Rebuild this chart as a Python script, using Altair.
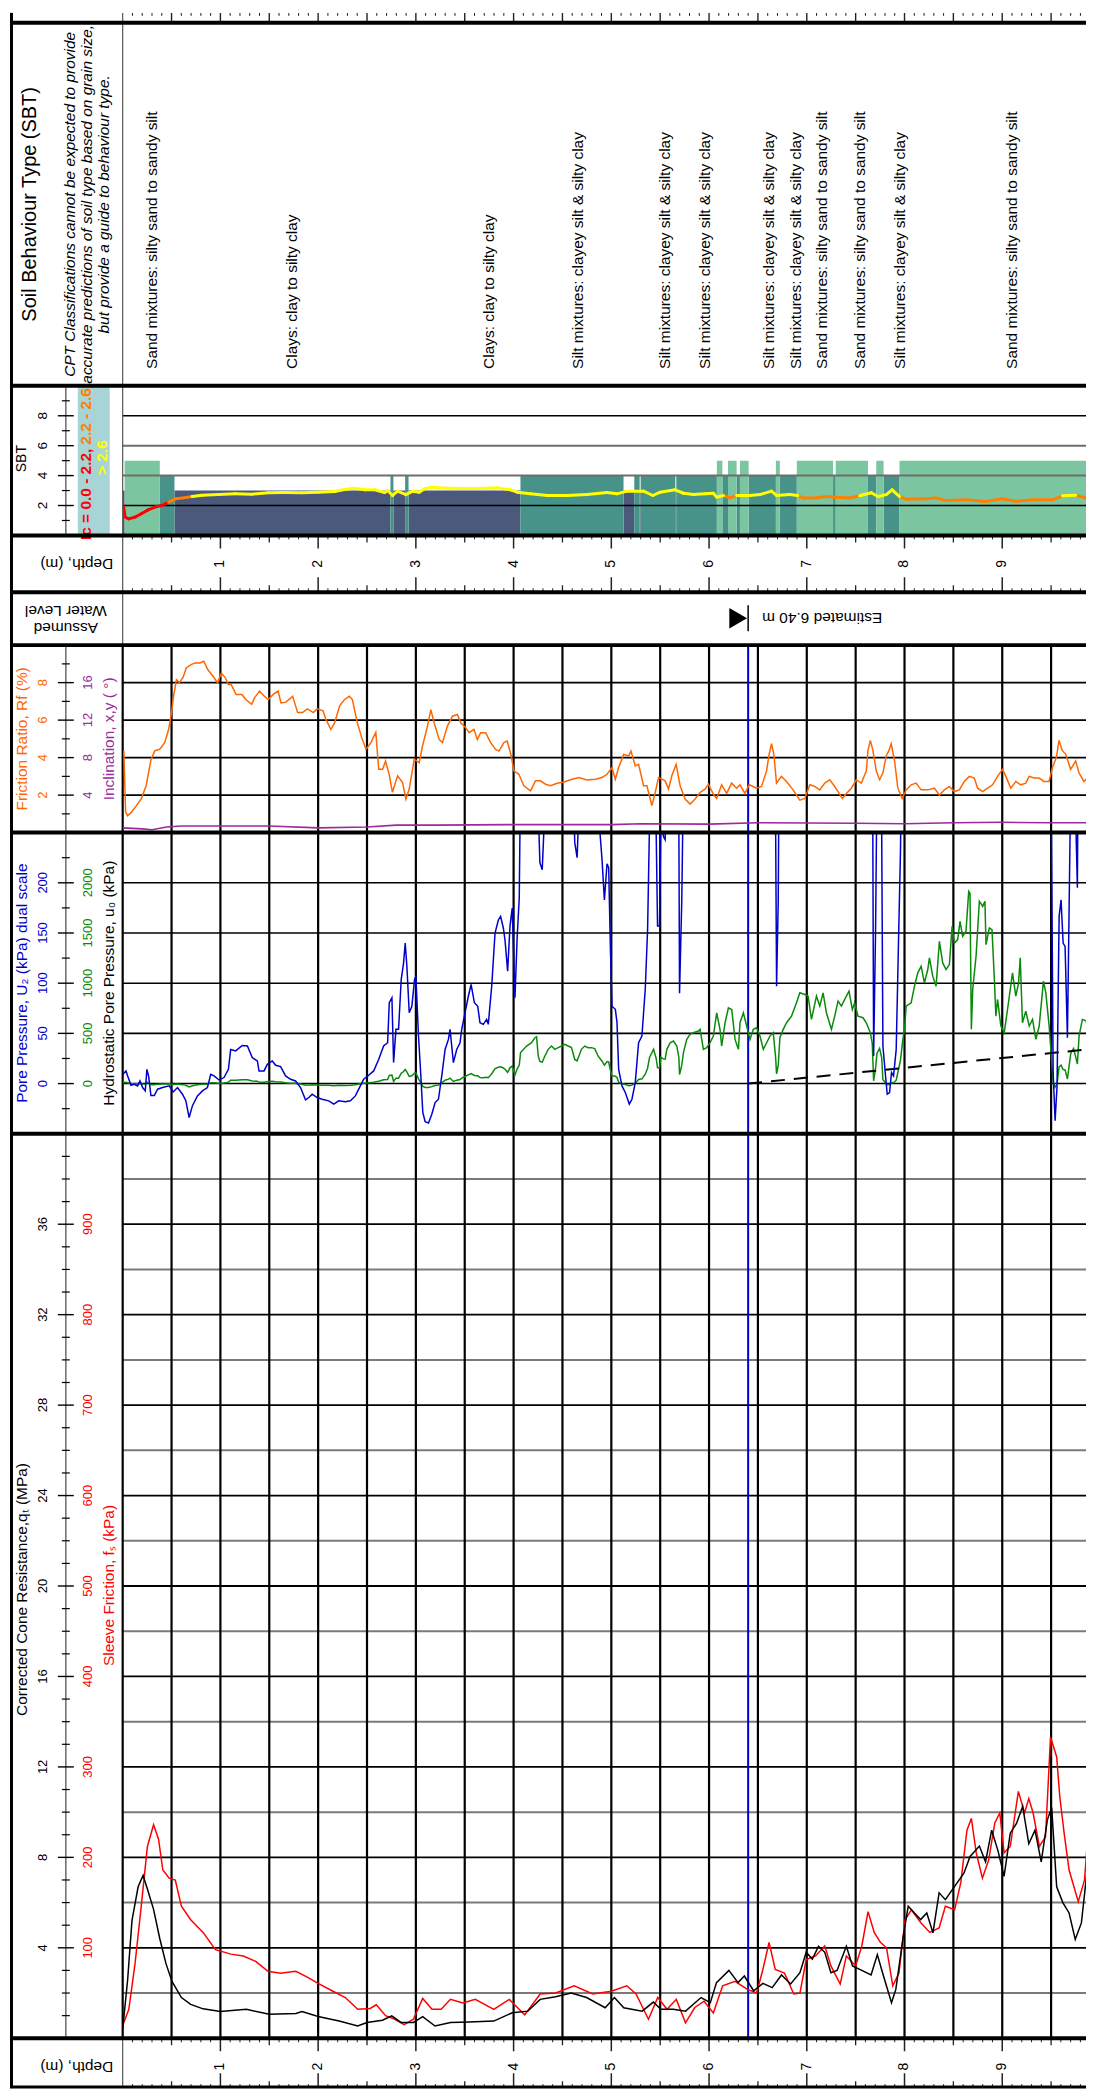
import altair as alt
import numpy as np
import pandas as pd

# ---------------- data ----------------
qt_depth = [0, 0.051, 0.095, 0.158, 0.209, 0.253, 0.316, 0.380, 0.443, 0.506,
            0.601, 0.696, 0.823, 1.000, 1.266, 1.500, 1.772, 1.835, 2.000, 2.215,
            2.405, 2.500, 2.658, 2.753, 2.848, 2.975, 3.070, 3.196, 3.354, 3.544,
            3.797, 3.987, 4.146, 4.272, 4.430, 4.589, 4.747, 4.937, 5.032, 5.127,
            5.316, 5.430, 5.506, 5.633, 5.759, 5.918, 6.013, 6.076, 6.203, 6.297,
            6.361, 6.456, 6.551, 6.646, 6.741, 6.835, 6.930, 6.994, 7.057, 7.120,
            7.184, 7.247, 7.310, 7.405, 7.468, 7.563, 7.658, 7.722, 7.785, 7.867,
            7.911, 7.987, 8.038, 8.101, 8.165, 8.228, 8.291, 8.354, 8.418, 8.513,
            8.608, 8.671, 8.766, 8.829, 8.892, 8.956, 9.019, 9.082, 9.146, 9.209,
            9.272, 9.335, 9.399, 9.462, 9.506, 9.557, 9.620, 9.684, 9.747, 9.810,
            9.873, 9.924]
qt_mpa = [0.4, 2.6, 5.2, 6.7, 7.2, 6.6, 5.7, 4.4, 3.3, 2.5,
          1.8, 1.5, 1.3, 1.18, 1.28, 1.06, 1.1, 1.18, 0.96, 0.76,
          0.54, 0.7, 0.8, 0.99, 0.7, 0.7, 0.96, 0.54, 0.7, 0.72,
          0.76, 1.13, 1.2, 1.72, 1.84, 2.0, 1.8, 1.35, 1.8, 1.35,
          1.2, 1.6, 1.28, 1.28, 1.2, 1.8, 1.57, 2.46, 3.0, 2.46,
          2.75, 2.1, 2.43, 2.24, 2.8, 2.4, 2.9, 3.8, 3.5, 4.07,
          3.8, 2.9, 3.0, 4.07, 3.2, 3.0, 2.8, 3.7, 2.75, 1.57,
          2.16, 4.5, 5.84, 5.54, 5.25, 5.54, 4.66, 6.43, 6.13, 6.72,
          7.3, 8.04, 8.5, 7.8, 9.2, 8.3, 7.16, 9.07, 9.5, 10.25,
          8.6, 9.2, 7.8, 9.66, 10.2, 6.7, 6.0, 5.54, 4.37, 5.1,
          7.6, 7.8]

fs_depth = [0, 0.063, 0.127, 0.190, 0.253, 0.316, 0.367, 0.411, 0.475, 0.538,
            0.601, 0.696, 0.823, 0.949, 1.108, 1.234, 1.361, 1.487, 1.614, 1.772,
            1.899, 1.994, 2.152, 2.278, 2.405, 2.532, 2.595, 2.690, 2.785, 2.880,
            2.975, 3.070, 3.165, 3.259, 3.354, 3.481, 3.608, 3.797, 3.956, 4.114,
            4.272, 4.430, 4.620, 4.810, 5.000, 5.158, 5.253, 5.380, 5.475, 5.570,
            5.665, 5.759, 5.854, 5.949, 6.044, 6.139, 6.266, 6.392, 6.487, 6.551,
            6.614, 6.677, 6.772, 6.867, 6.930, 6.994, 7.089, 7.184, 7.247, 7.342,
            7.405, 7.500, 7.563, 7.627, 7.690, 7.753, 7.816, 7.880, 7.943, 8.006,
            8.070, 8.165, 8.259, 8.354, 8.418, 8.513, 8.576, 8.639, 8.684, 8.734,
            8.797, 8.861, 8.924, 8.975, 9.019, 9.082, 9.165, 9.228, 9.272, 9.316,
            9.380, 9.443, 9.494, 9.557, 9.589, 9.633, 9.684, 9.778, 9.842, 9.873,
            9.924]
fs_kpa = [14, 32, 83, 146, 212, 236, 220, 186, 177, 175,
          146, 131, 117, 98, 93, 91, 85, 74, 72, 74,
          67, 61, 52, 45, 32, 33, 37, 25, 21, 15,
          21, 44, 32, 32, 43, 39, 43, 32, 43, 26,
          49, 50, 58, 49, 52, 58, 49, 21, 45, 32,
          43, 17, 34, 41, 28, 58, 63, 54, 50, 76,
          106, 76, 72, 49, 50, 87, 91, 102, 80, 60,
          91, 80, 102, 140, 117, 106, 100, 58, 72, 131,
          142, 128, 117, 122, 146, 142, 172, 230, 243, 205,
          177, 197, 238, 249, 205, 212, 273, 249, 265, 249,
          212, 223, 333, 311, 267, 227, 186, 151, 175, 220,
          232]

u2_depth = [0.000, 0.034, 0.051, 0.085, 0.119, 0.153, 0.177, 0.204, 0.231, 0.248,
            0.265, 0.289, 0.323, 0.357, 0.408, 0.476, 0.517, 0.561, 0.612, 0.646,
            0.680, 0.714, 0.765, 0.816, 0.867, 0.901, 0.935, 0.986, 1.037, 1.082,
            1.105, 1.156, 1.224, 1.276, 1.327, 1.378, 1.395, 1.446, 1.480, 1.531,
            1.565, 1.616, 1.667, 1.718, 1.769, 1.820, 1.871, 1.905, 1.939, 1.990,
            2.041, 2.109, 2.160, 2.211, 2.279, 2.330, 2.381, 2.432, 2.466, 2.517,
            2.568, 2.619, 2.670, 2.711, 2.728, 2.755, 2.772, 2.796, 2.823, 2.850,
            2.874, 2.891, 2.908, 2.932, 2.959, 2.986, 3.000, 3.027, 3.051, 3.071,
            3.095, 3.129, 3.163, 3.197, 3.231, 3.265, 3.299, 3.333, 3.350, 3.384,
            3.418, 3.452, 3.469, 3.503, 3.537, 3.565, 3.599, 3.633, 3.656, 3.690,
            3.724, 3.741, 3.776, 3.810, 3.844, 3.867, 3.895, 3.912, 3.939, 3.963,
            3.986, 4.014, 4.037, 4.058, 4.071, 4.133, 4.184, 4.218, 4.235, 4.252,
            4.269, 4.293, 4.320, 4.354, 4.388, 4.422, 4.456, 4.490, 4.524, 4.558,
            4.592, 4.626, 4.650, 4.694, 4.728, 4.762, 4.796, 4.830, 4.864, 4.905,
            4.929, 4.956, 4.973, 4.990, 5.007, 5.041, 5.058, 5.075, 5.109, 5.143,
            5.184, 5.211, 5.245, 5.279, 5.313, 5.347, 5.371, 5.391, 5.398, 5.432,
            5.459, 5.473, 5.493, 5.507, 5.534, 5.551, 5.568, 5.602, 5.636, 5.670,
            5.691, 5.698, 5.721, 5.738, 5.772, 5.806, 5.840, 5.891, 5.908, 5.942,
            5.976, 6.010, 6.044, 6.078, 6.112, 6.129, 6.164, 6.198, 6.232, 6.266,
            6.300, 6.317, 6.351, 6.385, 6.419, 6.453, 6.487, 6.521, 6.555, 6.589,
            6.623, 6.657, 6.681, 6.691, 6.708, 6.725, 6.759, 6.793, 6.844, 6.895,
            6.929, 6.980, 7.014, 7.048, 7.099, 7.133, 7.167, 7.201, 7.252, 7.286,
            7.320, 7.354, 7.405, 7.432, 7.466, 7.490, 7.524, 7.575, 7.609, 7.650,
            7.670, 7.684, 7.704, 7.718, 7.745, 7.766, 7.779, 7.806, 7.823, 7.847,
            7.867, 7.888, 7.915, 7.939, 7.959, 7.983, 8.000, 8.017, 8.068, 8.102,
            8.136, 8.170, 8.204, 8.238, 8.255, 8.289, 8.323, 8.357, 8.391, 8.425,
            8.459, 8.487, 8.510, 8.544, 8.568, 8.595, 8.629, 8.657, 8.670, 8.684,
            8.698, 8.732, 8.766, 8.800, 8.823, 8.834, 8.868, 8.895, 8.918, 8.935,
            8.952, 8.986, 9.020, 9.054, 9.105, 9.139, 9.167, 9.184, 9.207, 9.241,
            9.276, 9.310, 9.344, 9.378, 9.422, 9.446, 9.480, 9.500, 9.521, 9.541,
            9.561, 9.582, 9.602, 9.623, 9.643, 9.667, 9.684, 9.701, 9.730, 9.769,
            9.786, 9.820, 9.861, 9.888, 9.915, 9.949]
u2_kpa = [9, 12.6, 7.6, -1.7, -0.7, -2.3, 2.6, -4, -7.3, 14.2,
          7.6, -12, -12, -5.6, -4, -2.3, -8.3, -4, -10.6, -17,
          -33.8, -22, -12.3, -7.3, -4, 9.3, 7.6, 3.6, 6, 14.2,
          34, 32.5, 38, 37.4, 25.8, 22.5, 12.6, 12.6, 19.2, 22.5,
          18.2, 16.9, 7.6, 4.3, 2.6, -4, -16.2, -13.9, -10.6, -13.9,
          -15.6, -17.2, -20.5, -17.2, -18.2, -17.2, -12.3, -2.3, 4.3, 8.3,
          12.6, 24, 37.4, 40.7, 80.5, 85.4, 20.9, 54, 54, 103.6,
          120, 140, 117, 70.5, 77, 103.6, 107, 47.4, 7.6, -28.8,
          -38, -39.4, -30.5, -18.9, -15.6, 7.6, 34, 44, 54, 20.9,
          34, 40.7, 54, 70.5, 87, 98.7, 80.5, 77, 60.6, 59,
          63.9, 59, 97, 150, 163, 166.6, 155, 143, 112, 156.6,
          174.8, 85.4, 146.7, 184.8, 309, 374, 407, 457, 467, 275,
          220, 213, 275, 341, 374, 341, 358, 374, 391, 374,
          358, 240, 225, 341, 374, 358, 358, 348, 275, 223,
          183, 219, 215, 137, 77, 74, 61, 14, -2.3, -8.9,
          -20.5, -15.6, 1, 40.7, 47.4, 93.7, 153, 260, 275, 341,
          250, 157, 157, 260, 246, 243, 341, 407, 424, 374,
          260, 90, 183, 308, 440, 490, 507, 523, 540, 341,
          358, 407, 473, 705, 540, 374, 606, 755, 738, 440,
          341, 606, 705, 573, 440, 540, 556, 473, 341, 407,
          473, 507, 260, 97, 183, 457, 540, 606, 672, 805,
          904, 887, 871, 639, 871, 772, 904, 705, 540, 672,
          821, 772, 871, 920, 738, 805, 672, 656, 606, 507,
          400, 27.5, 153, 300, 350, 260, 37.4, 7.6, -10.6, -8.9,
          10.9, 7.6, 34, 143, 232.8, 440, 540, 772, 805, 970,
          1103, 1169, 1003, 1136, 1252, 1070, 970, 1417, 1202, 1136,
          1185, 1566, 1400, 1434, 1616, 1467, 1517, 1914, 1897, 540,
          937, 1268, 1815, 1765, 1815, 1384, 1550, 1533, 1070, 672,
          838, 573, 507, 738, 1103, 871, 1003, 1252, 606, 722,
          573, 639, 440, 573, 1020, 904, 573, 300, 10.9, -37,
          -2.3, 166.6, 183, 140, 136.7, 45.7, 173, 300, 350, 195,
          473, 639, 622, 374, 507, 937]

hydro_depth = [6.40, 10.0]
hydro_kpa = [0.0, 35.3]
water_depth = [6.40]

rf_depth = [0.012, 0.03, 0.05, 0.09, 0.14, 0.19, 0.24, 0.29, 0.33, 0.38,
            0.43, 0.47, 0.50, 0.52, 0.55, 0.58, 0.62, 0.65, 0.70, 0.74,
            0.79, 0.83, 0.87, 0.93, 0.97, 1.01, 1.05, 1.08, 1.11, 1.16,
            1.22, 1.26, 1.32, 1.35, 1.40, 1.45, 1.49, 1.54, 1.59, 1.62,
            1.67, 1.74, 1.79, 1.84, 1.89, 1.95, 1.99, 2.05, 2.08, 2.13,
            2.17, 2.22, 2.27, 2.32, 2.35, 2.40, 2.45, 2.49, 2.54, 2.59,
            2.62, 2.66, 2.69, 2.73, 2.76,
            2.813, 2.864, 2.898, 2.932, 2.983, 3.034, 3.068, 3.119, 3.153, 3.187,
            3.238, 3.272, 3.323, 3.374, 3.425, 3.459, 3.510, 3.544, 3.595, 3.629,
            3.663, 3.714, 3.765, 3.816, 3.850, 3.901, 3.935, 3.976, 4.003, 4.054,
            4.105, 4.173, 4.224, 4.275, 4.327, 4.378, 4.446, 4.514, 4.599, 4.667,
            4.752, 4.837, 4.905, 4.956, 5.007, 5.041, 5.075, 5.126, 5.177, 5.201,
            5.245, 5.279, 5.330, 5.364, 5.415, 5.449, 5.483, 5.517, 5.551, 5.585,
            5.619, 5.663, 5.704, 5.755, 5.806, 5.857, 5.908, 5.959, 5.993, 6.044,
            6.078, 6.129, 6.180, 6.231, 6.282, 6.316, 6.367, 6.411, 6.452, 6.486,
            6.537, 6.588, 6.615, 6.639, 6.663, 6.690, 6.741, 6.792, 6.860, 6.929,
            6.980, 7.031, 7.082, 7.133, 7.184, 7.235, 7.286, 7.320, 7.364, 7.405,
            7.456, 7.507, 7.558, 7.609, 7.626, 7.650, 7.677, 7.711, 7.745, 7.779,
            7.813, 7.840, 7.864, 7.898, 7.932, 7.976, 8.017, 8.068, 8.119, 8.170,
            8.238, 8.306, 8.357, 8.408, 8.459, 8.510, 8.561, 8.612, 8.663, 8.714,
            8.748, 8.799, 8.850, 8.901, 8.952, 9.003, 9.037, 9.088, 9.139, 9.190,
            9.241, 9.275, 9.326, 9.377, 9.428, 9.479, 9.513, 9.554, 9.581, 9.615,
            9.649, 9.700, 9.751, 9.785, 9.836, 9.887, 9.949]
rf_pct = [4.37, 1.09, 0.9, 1.09, 1.44, 1.8, 2.5, 3.9, 4.37, 4.45,
          4.8, 5.5, 6.4, 7.27, 8.15, 8.0, 8.3, 8.78, 8.96, 9.05,
          9.05, 9.14, 8.7, 8.3, 8.0, 8.5, 8.27, 7.9, 7.9, 7.37,
          7.37, 7.1, 6.84, 7.2, 7.55, 7.27, 7.1, 7.37, 7.55, 6.92,
          6.96, 7.27, 6.4, 6.4, 6.6, 6.4, 6.6, 6.5, 6.04, 5.5,
          5.88, 6.76, 7.1, 7.27, 7.1, 5.88, 5.0, 4.45, 4.8, 5.35,
          3.38, 3.38, 3.82, 3.03, 2.15,
          3.03, 2.67, 1.79, 2.32, 3.91, 3.73, 4.62, 5.68, 6.56, 5.86,
          4.97, 4.8, 5.68, 6.21, 6.3, 5.86, 5.6, 5.33, 5.5, 4.97,
          5.33, 5.33, 4.8, 4.44, 4.35, 4.8, 4.88, 4.09, 3.29, 3.11,
          2.5, 2.23, 2.76, 2.76, 2.58, 2.5, 2.63, 2.7, 2.85, 2.94,
          2.81, 2.85, 2.94, 3.11, 3.47, 2.85, 3.47, 4.17, 4.09, 4.35,
          3.56, 3.64, 2.5, 2.5, 1.44, 2.14, 2.94, 2.85, 2.76, 2.32,
          3.03, 3.64, 2.5, 1.79, 1.52, 1.79, 2.14, 2.32, 2.58, 2.05,
          1.82, 2.55, 2.09, 2.64, 2.37, 2.55, 2.09, 2.55, 2.46, 2.37,
          2.46, 3.28, 4.19, 4.74, 4.19, 2.64, 3.0, 2.73, 2.28, 1.73,
          1.82, 2.55, 2.46, 2.28, 2.64, 2.82, 2.46, 2.19, 1.82, 2.09,
          2.37, 2.82, 2.64, 3.28, 4.37, 4.92, 4.37, 3.28, 2.82, 3.19,
          4.1, 4.37, 4.74, 3.82, 2.37, 1.82, 2.28, 2.55, 2.64, 2.28,
          2.28, 2.37, 2.0, 2.28, 2.46, 2.19, 2.28, 2.73, 3.0, 2.91,
          2.37, 2.19, 2.37, 2.55, 3.0, 3.37, 3.0, 2.37, 2.73, 2.55,
          2.64, 3.0, 2.91, 2.91, 2.73, 2.73, 3.46, 4.01, 4.92, 4.37,
          4.19, 3.37, 3.82, 3.19, 2.73, 3.0, 3.0]

inc_depth = [0.0, 0.2, 0.3, 0.45, 0.6, 1.5, 2.0, 2.5, 2.8, 3.2, 4.0, 5.0, 5.3,
             6.0, 6.5, 7.5, 8.0, 8.5, 9.0, 9.5, 9.95]
inc_deg = [0.5, 0.4, 0.3, 0.6, 0.7, 0.7, 0.5, 0.6, 0.8, 0.8, 0.85, 0.85, 0.95,
           0.9, 1.05, 1.0, 0.95, 1.05, 1.1, 1.05, 1.05]

ic_depth = [0.000, 0.010, 0.025, 0.06, 0.13, 0.19, 0.26, 0.33, 0.40, 0.47,
            0.54, 0.62, 0.71, 0.81, 0.98, 1.15, 1.32, 1.49, 1.66, 1.83,
            2.00, 2.17, 2.27, 2.37, 2.48, 2.58, 2.68, 2.711, 2.762, 2.813,
            2.898, 2.966, 3.034, 3.085, 3.153, 3.323, 3.493, 3.663, 3.833, 3.969,
            4.037, 4.173, 4.344, 4.548, 4.752, 4.956, 5.058, 5.160, 5.330, 5.425,
            5.500, 5.653, 5.738, 5.840, 5.959, 6.044, 6.078, 6.146, 6.214, 6.282,
            6.418, 6.520, 6.639, 6.690, 6.826, 6.908, 6.959, 7.095, 7.197, 7.306,
            7.439, 7.541, 7.660, 7.728, 7.813, 7.874, 7.949, 8.017, 8.221, 8.323,
            8.425, 8.629, 8.833, 9.003, 9.139, 9.309, 9.513, 9.615, 9.751, 9.850,
            9.949]
ic_val = [1.9, 1.9, 1.23, 1.11, 1.23, 1.45, 1.71, 1.9, 2.0, 2.23,
          2.45, 2.51, 2.6, 2.69, 2.73, 2.78, 2.76, 2.85, 2.87, 2.85,
          2.89, 2.94, 3.07, 3.16, 3.05, 3.05, 2.87, 3.0, 2.67, 2.96,
          2.73, 2.96, 2.89, 3.11, 3.22, 3.16, 3.14, 3.14, 3.18, 3.05,
          2.89, 2.78, 2.67, 2.67, 2.73, 2.87, 2.78, 2.96, 2.96, 2.67,
          2.89, 3.05, 2.82, 2.73, 2.78, 2.82, 2.56, 2.67, 2.51, 2.67,
          2.67, 2.73, 2.96, 2.67, 2.73, 2.67, 2.51, 2.51, 2.6, 2.56,
          2.51, 2.65, 2.85, 2.6, 2.73, 3.05, 2.6, 2.42, 2.45, 2.51,
          2.34, 2.38, 2.27, 2.45, 2.29, 2.38, 2.38, 2.65, 2.69, 2.51,
          2.45]

sbt_start = [0.00, 0.02, 0.38, 0.53, 2.74, 2.77, 2.89, 2.925, 4.07, 5.125,
             5.235, 5.29, 5.30, 5.655, 5.665, 6.08, 6.136, 6.194, 6.282, 6.316,
             6.405, 6.684, 6.724, 6.898, 7.269, 7.296, 7.626, 7.711, 7.786, 7.949]
sbt_end = [0.02, 0.38, 0.53, 2.74, 2.77, 2.89, 2.925, 4.07, 5.125, 5.235,
           5.29, 5.30, 5.655, 5.665, 6.08, 6.136, 6.194, 6.282, 6.316, 6.405,
           6.684, 6.724, 6.898, 7.269, 7.296, 7.626, 7.711, 7.786, 7.949, 9.96]
sbt_zone = [3, 5, 4, 3, 4, 3, 4, 3, 4, 3,
            4, 3, 4, 3, 4, 5, 4, 5, 4, 5,
            4, 5, 4, 5, 4, 5, 4, 5, 4, 5]

sbt_label_depth = [0.30, 1.73, 3.75, 4.66, 5.55, 5.96, 6.61, 6.89, 7.16, 7.54, 7.95, 9.10]
sbt_label_text = ["Sand mixtures: silty sand to sandy silt",
                  "Clays: clay to silty clay",
                  "Clays: clay to silty clay",
                  "Silt mixtures: clayey silt & silty clay",
                  "Silt mixtures: clayey silt & silty clay",
                  "Silt mixtures: clayey silt & silty clay",
                  "Silt mixtures: clayey silt & silty clay",
                  "Silt mixtures: clayey silt & silty clay",
                  "Sand mixtures: silty sand to sandy silt",
                  "Sand mixtures: silty sand to sandy silt",
                  "Silt mixtures: clayey silt & silty clay",
                  "Sand mixtures: silty sand to sandy silt"]

sbt_ticks = [2, 4, 6, 8]
rf_ticks = [2, 4, 6, 8]
inc_ticks = [4, 8, 12, 16]
u2_ticks = [0, 50, 100, 150, 200]
u0_ticks = [0, 500, 1000, 1500, 2000]
qt_ticks = [4, 8, 12, 16, 20, 24, 28, 32, 36]
fs_ticks = [100, 200, 300, 400, 500, 600, 700, 800, 900]
depth_ticks = [1, 2, 3, 4, 5, 6, 7, 8, 9]

# ---------------- layout constants ----------------
PX_PER_M = 98.0
W = 966
DMAX = W / PX_PER_M
BX = -111.5          # left border
AXX = -57            # label-column axis line
LAB1, LAB2 = -80, -35
TIT1, TIT2 = -101, -14
FS = 15.5            # label / title font size
TK = 13              # tick label font size
ONE = pd.DataFrame({"k": [0]})

ZC = {3: "#4b5a7a", 4: "#47938a", 5: "#7cc5a1"}
IC_COL = {"a": "#ff0000", "b": "#ff8000", "c": "#ffff00"}


def xsc():
    return alt.Scale(domain=[0, DMAX], nice=False, zero=False)


def ysc(lo, hi):
    return alt.Scale(domain=[lo, hi], nice=False, zero=False)


def XQ(f="d"):
    return alt.X(f"{f}:Q", scale=xsc(), axis=None)


def YQ(f, lo, hi):
    return alt.Y(f"{f}:Q", scale=ysc(lo, hi), axis=None)


def vrule(x, y0, y1, color, w):
    return alt.Chart(ONE).mark_rule(color=color, strokeWidth=w).encode(
        x=alt.value(x), y=alt.value(y0), y2=alt.value(y1))


def hrule(y, x0, x1, color, w):
    return alt.Chart(ONE).mark_rule(color=color, strokeWidth=w).encode(
        y=alt.value(y), x=alt.value(x0), x2=alt.value(x1))


def label(text, x, y, color="black", size=FS, angle=270, align="center",
          style="normal", weight="normal"):
    return alt.Chart(ONE).mark_text(
        text=text, angle=angle, align=align, baseline="middle", fontSize=size,
        color=color, fontStyle=style, fontWeight=weight).encode(
        x=alt.value(x), y=alt.value(y))


def hgrid(vals, lo, hi, color, w):
    return alt.Chart(pd.DataFrame({"v": vals})).mark_rule(color=color, strokeWidth=w).encode(
        y=YQ("v", lo, hi), x=alt.value(0), x2=alt.value(W))


def vgrid(vals, H, color, w):
    return alt.Chart(pd.DataFrame({"d": vals})).mark_rule(color=color, strokeWidth=w).encode(
        x=XQ("d"), y=alt.value(0), y2=alt.value(H))


def yticks(vals, lo, hi, x0, x1, w=1.3):
    return alt.Chart(pd.DataFrame({"v": vals})).mark_rule(color="black", strokeWidth=w).encode(
        y=YQ("v", lo, hi), x=alt.value(x0), x2=alt.value(x1))


def ylabels(vals, lo, hi, x, color, size=TK):
    df = pd.DataFrame({"v": vals, "t": [str(v) for v in vals]})
    return alt.Chart(df).mark_text(angle=270, align="center", baseline="middle",
                                   fontSize=size, color=color).encode(
        y=YQ("v", lo, hi), x=alt.value(x), text="t:N")


def axis_col(H, lo, hi, major, minor):
    return [vrule(AXX, 0, H, "#6a6a6a", 1.5),
            yticks(minor, lo, hi, -61, -53, 1.2),
            yticks(major, lo, hi, -65, -49, 1.4)]


def frame(H, thin=True, top=True, bottom=False):
    out = [vrule(BX, 0, H, "black", 3)]
    if thin:
        out.append(vrule(0, 0, H, "#555555", 1.2))
    if top:
        out.append(hrule(0, BX - 1.5, W, "black", 4))
    if bottom:
        out.append(hrule(H - 1, BX - 1.5, W, "black", 3))
    return out


def panel(layers, H):
    return alt.layer(*layers).properties(width=W, height=H).resolve_scale(y="independent")


def line(depths, vals, lo, hi, color, w=1.5, dash=None, clip=True):
    df = pd.DataFrame({"d": depths, "v": vals})
    kw = dict(color=color, strokeWidth=w, clip=clip)
    if dash:
        kw["strokeDash"] = dash
    return alt.Chart(df).mark_line(**kw).encode(x=XQ("d"), y=YQ("v", lo, hi))


minor_d = [round(0.1 * i, 1) for i in range(1, 100) if i % 5 != 0]
half_d = [0.5 + i for i in range(10)]
whole_d = list(range(1, 10))
grid_d = [0.5 * i for i in range(20)]


def dticks(vals, y0, y1, w):
    return alt.Chart(pd.DataFrame({"d": vals})).mark_rule(color="#222222", strokeWidth=w, clip=True).encode(
        x=XQ("d"), y=alt.value(y0), y2=alt.value(y1))


# ---------------- panels ----------------
# 0: top strip (bottom of a depth scale)
H0 = 10
p0 = panel([dticks(whole_d + half_d, 0, 10, 1.4), dticks(minor_d, 0, 3, 1.0)] +
           frame(H0, top=False), H0)

# 1: SBT description column
H1 = 364
lab_df = pd.DataFrame({"d": sbt_label_depth, "t": sbt_label_text})
p1_layers = [
    alt.Chart(lab_df).mark_text(angle=270, align="left", baseline="middle", fontSize=FS).encode(
        x=XQ("d"), y=alt.value(347), text="t:N"),
    label("Soil Behaviour Type (SBT)", -93, 182, size=20),
    label("CPT Classifications cannot be expected to provide", -53, 182, style="italic"),
    label("accurate predictions of soil type based on grain size,", -36, 182, style="italic"),
    label("but provide a guide to behaviour type.", -19, 182, style="italic"),
]
p1 = panel(p1_layers + frame(H1), H1)

# 2: SBT chart
H2 = 150
zdf = pd.DataFrame({"s": sbt_start, "e": sbt_end, "z": sbt_zone, "b": [0] * len(sbt_zone)})
ic_seg = pd.DataFrame({"d0": ic_depth[:-1], "d1": ic_depth[1:],
                       "v0": ic_val[:-1], "v1": ic_val[1:]})
mid = (ic_seg["v0"] + ic_seg["v1"]) / 2
ic_seg["cls"] = np.where(mid < 2.2, "a", np.where(mid < 2.6, "b", "c"))

zone_layers = [
    alt.Chart(zdf[zdf["z"] == z]).mark_rect(color=c, clip=True).encode(
        x=XQ("s"), x2="e:Q", y=YQ("z", 0, 10), y2="b:Q")
    for z, c in ZC.items()
]
ic_layers = [
    alt.Chart(ic_seg[ic_seg["cls"] == k]).mark_rule(color=c, strokeWidth=3, strokeCap="round",
                                                    clip=True).encode(
        x=XQ("d0"), x2="d1:Q", y=YQ("v0", 0, 10), y2="v1:Q")
    for k, c in IC_COL.items()
]
p2_layers = zone_layers + [
    hgrid([2, 8], 0, 10, "black", 1.5),
    hgrid([4, 6], 0, 10, "#6e6e6e", 2),
] + ic_layers + [
    alt.Chart(ONE).mark_rect(color="#a8d4d5").encode(
        x=alt.value(-45), x2=alt.value(-13), y=alt.value(0), y2=alt.value(H2)),
    label("I\u1d04 = 0.0 - 2.2,", -37, 63, color="#ff0000", weight="bold", align="right"),
    label("2.2 - 2.6,", -37, 59, color="#ff8000", weight="bold", align="left"),
    label("> 2.6", -21, 72, color="#ffff00", weight="bold"),
    label("SBT", TIT1, 73, size=14),
    ylabels(sbt_ticks, 0, 10, LAB1, "black", 13.5),
] + axis_col(H2, 0, 10, [2, 4, 6, 8], [1, 3, 5, 7, 9])
p2 = panel(p2_layers + frame(H2), H2)


# depth scale panel
def depth_panel(H, bottom=False):
    dl = pd.DataFrame({"d": depth_ticks, "t": [str(v) for v in depth_ticks]})
    layers = [
        dticks(whole_d, 0, 13, 1.5), dticks(half_d, 0, 7, 1.3), dticks(minor_d, 0, 4, 1.0),
        dticks(whole_d, H - 15, H, 1.5), dticks(half_d, H - 7, H, 1.3), dticks(minor_d, H - 4, H, 1.0),
        alt.Chart(dl).mark_text(angle=270, align="center", baseline="middle", fontSize=14).encode(
            x=XQ("d"), y=alt.value(28.5), text="t:N"),
        label("Depth, (m)", -46, 29, angle=180),
    ]
    return panel(layers + frame(H, bottom=bottom), H)


H3 = 57
p3 = depth_panel(H3)

# 4: water level
H4 = 53
wdf = pd.DataFrame({"d": water_depth})
p4_layers = [
    label("Water Level", -57, 19, angle=180),
    label("Assumed", -57, 36, angle=180),
    alt.Chart(wdf).mark_point(shape="triangle-right", filled=True, color="black", opacity=1,
                              size=420, xOffset=-10).encode(x=XQ("d"), y=alt.value(26)),
    alt.Chart(wdf).mark_rule(color="black", strokeWidth=1.5).encode(
        x=XQ("d"), y=alt.value(13), y2=alt.value(39)),
    alt.Chart(wdf).mark_text(text="Estimated 6.40 m", angle=180, align="right", baseline="middle",
                             fontSize=FS, xOffset=14).encode(x=XQ("d"), y=alt.value(26)),
]
p4 = panel(p4_layers + frame(H4), H4)

# 5: friction ratio / inclination
H5 = 188
p5_layers = [
    hgrid(rf_ticks, 0, 10, "black", 1.6),
    vgrid(grid_d, H5, "black", 2.2),
    vgrid(water_depth, H5, "#0000cc", 2),
    line(inc_depth, inc_deg, 0, 20, "#9b2a9b", 1.6),
    line(rf_depth, rf_pct, 0, 10, "#ff6600", 1.5),
    label("Friction Ratio, Rf (%)", TIT1, 94, color="#ff6600"),
    label("Inclination, x,y ( \u00b0)", TIT2, 94, color="#9b2a9b"),
    ylabels(rf_ticks, 0, 10, LAB1, "#ff6600"),
    ylabels(inc_ticks, 0, 20, LAB2, "#9b2a9b"),
] + axis_col(H5, 0, 10, [2, 4, 6, 8], [1, 3, 5, 7, 9])
p5 = panel(p5_layers + frame(H5, thin=False), H5)

# 6: pore pressure
H6 = 302
p6_layers = [
    hgrid(u2_ticks, -50, 250, "black", 1.6),
    vgrid(grid_d, H6, "black", 2.2),
    vgrid(water_depth, H6, "#0000cc", 2),
    line(u2_depth, u2_kpa, -500, 2500, "#0a8a0a", 1.5),
    line(hydro_depth, hydro_kpa, -50, 250, "black", 2, dash=[14, 9]),
    line(u2_depth, u2_kpa, -50, 250, "#0000cc", 1.5),
    label("Pore Pressure, U\u2082 (kPa) dual scale", TIT1, 151, color="#0000cc"),
    label("Hydrostatic Pore Pressure, u\u2080 (kPa)", TIT2, 151, color="black"),
    ylabels(u2_ticks, -50, 250, LAB1, "#0000cc"),
    ylabels(u0_ticks, -500, 2500, LAB2, "#0a8a0a"),
] + axis_col(H6, -50, 250, [0, 50, 100, 150, 200], [-25, 25, 75, 125, 175, 225])
p6 = panel(p6_layers + frame(H6, thin=False), H6)

# 7: cone resistance / sleeve friction
H7 = 907
p7_layers = [
    hgrid([2, 6, 10, 14, 18, 22, 26, 30, 34, 38], 0, 40, "#7a7a7a", 2),
    hgrid([4, 8, 12, 16, 20, 24, 28, 32, 36], 0, 40, "black", 1.8),
    vgrid(grid_d, H7, "black", 2.2),
    vgrid(water_depth, H7, "#0000cc", 2),
    line(fs_depth, fs_kpa, 0, 1000, "#ff0000", 1.5),
    line(qt_depth, qt_mpa, 0, 40, "black", 1.5),
    label("Corrected Cone Resistance,q\u209c (MPa)", TIT1, 457),
    label("Sleeve Friction, f\u209b (kPa)", TIT2, 453, color="#ff0000"),
    ylabels(qt_ticks, 0, 40, LAB1, "black"),
    ylabels(fs_ticks, 0, 1000, LAB2, "#ff0000"),
] + axis_col(H7, 0, 40, qt_ticks, [v for v in range(1, 40) if v % 4 != 0])
p7 = panel(p7_layers + frame(H7, thin=False), H7)

# 8: bottom depth scale
H8 = 50
p8 = depth_panel(H8, bottom=True)

chart = alt.vconcat(p0, p1, p2, p3, p4, p5, p6, p7, p8, spacing=0, bounds="flush").properties(
    padding=0
).configure_view(stroke=None).configure_text(font="Liberation Sans")

chart.save("out.html", embed_options={"renderer": "svg", "actions": False})
